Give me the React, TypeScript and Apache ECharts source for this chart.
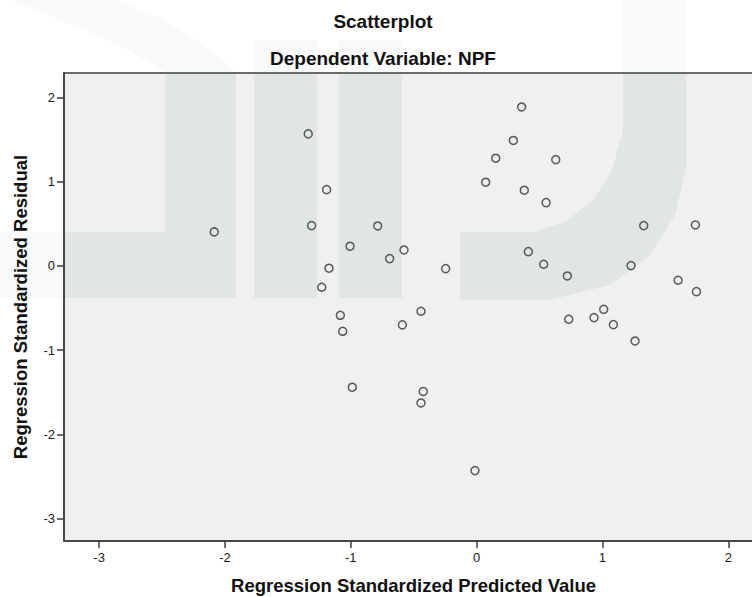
import React, { useEffect, useRef } from "react";
import * as echarts from "echarts";

const chartTitle = "Scatterplot";
const chartSubtitle = "Dependent Variable: NPF";
const xAxisName = "Regression Standardized Predicted Value";
const yAxisName = "Regression Standardized Residual";

const xTicks = [-3, -2, -1, 0, 1, 2];
const yTicks = [-3, -2, -1, 0, 1, 2];

const predicted = [
  -2.085, -1.338, -1.311, -1.192, -1.173, -1.231, -1.083, -1.064, -1.006, -0.988,
  -0.786, -0.691, -0.577, -0.59, -0.442, -0.424, -0.442, -0.246, -0.013,
  0.358, 0.292, 0.152, 0.629, 0.072, 0.379, 0.552, 1.328, 1.739, 0.411,
  0.533, 0.721, 1.227, 1.601, 1.747, 0.732, 0.933, 1.01, 1.087, 1.259,
];
const residual = [
  0.404, 1.568, 0.479, 0.906, -0.027, -0.253, -0.586, -0.776, 0.234, -1.44,
  0.475, 0.087, 0.19, -0.7, -0.538, -1.49, -1.627, -0.032, -2.43,
  1.888, 1.49, 1.279, 1.263, 0.994, 0.899, 0.752, 0.479, 0.487, 0.17,
  0.02, -0.119, 0.004, -0.17, -0.305, -0.633, -0.614, -0.515, -0.697, -0.891,
];

const FONT = '"Liberation Sans", Arial, sans-serif';

export default function App() {
  const ref = useRef<HTMLDivElement>(null);
  useEffect(() => {
    document.body.style.margin = "0";
    const chart = echarts.init(ref.current!, null, { renderer: "svg" });
    const wmIn = "rgba(0,80,70,0.06)";
    const wmOut = "rgba(0,80,70,0.028)";
    const poly = (points: number[][], fill: string) => ({
      type: "polygon",
      z: 1,
      silent: true,
      shape: { points },
      style: { fill },
    });
    chart.setOption({
      animation: false,
      backgroundColor: "#ffffff",
      grid: {
        left: 64,
        width: 699,
        top: 73,
        height: 468,
        containLabel: false,
        outerBoundsMode: "none",
        show: true,
        backgroundColor: "#f0f0f0",
        borderColor: "#3c3c3c",
        borderWidth: 1.5,
      },
      xAxis: {
        type: "value",
        min: -3.279,
        max: 2.276,
        splitLine: { show: false },
        axisLine: { show: true, onZero: false, lineStyle: { color: "#3c3c3c", width: 1.5 } },
        axisTick: { show: true, length: 7, customValues: xTicks, lineStyle: { color: "#3c3c3c", width: 1.5 } },
        axisLabel: { customValues: xTicks, margin: 10, fontSize: 13, color: "#1a1a1a", fontFamily: FONT },
        name: xAxisName,
        nameLocation: "middle",
        nameGap: 35,
        nameTextStyle: { fontSize: 18.5, fontWeight: "bold", color: "#111", fontFamily: FONT },
      },
      yAxis: {
        type: "value",
        min: -3.266,
        max: 2.291,
        splitLine: { show: false },
        axisLine: { show: true, onZero: false, lineStyle: { color: "#3c3c3c", width: 1.5 } },
        axisTick: { show: true, length: 7, customValues: yTicks, lineStyle: { color: "#3c3c3c", width: 1.5 } },
        axisLabel: { customValues: yTicks, margin: 9, fontSize: 13, color: "#1a1a1a", fontFamily: FONT },
        name: yAxisName,
        nameLocation: "middle",
        nameGap: 34,
        nameTextStyle: { fontSize: 18.5, fontWeight: "bold", color: "#111", fontFamily: FONT },
      },
      graphic: [
        // watermark (decorative) inside the plot area
        poly([[64, 232], [236, 232], [236, 298], [64, 298]], wmIn),
        poly([[165, 74], [236, 74], [236, 232], [165, 232]], wmIn),
        poly([[254, 74], [317, 74], [317, 298], [254, 298]], wmIn),
        poly([[339, 74], [402, 74], [402, 298], [339, 298]], wmIn),
        poly([
          [460, 232], [533, 232], [565, 222], [593, 200], [612, 170], [623, 130], [623, 74],
          [686, 74], [686, 170], [675, 215], [650, 255], [610, 285], [550, 300], [460, 300],
        ], wmIn),
        // watermark outside the plot area
        poly([[0, 232], [63, 232], [63, 298], [0, 298]], wmOut),
        poly([[165, 72], [236, 72], [205, 45], [160, 18], [115, 0], [10, 0], [60, 20], [125, 48]], wmOut),
        poly([[254, 40], [317, 40], [317, 72], [254, 72]], wmOut),
        poly([[339, 40], [402, 40], [402, 72], [339, 72]], wmOut),
        poly([[623, 0], [686, 0], [686, 72], [623, 72]], wmOut),
        {
          type: "text",
          z: 10,
          x: 383,
          y: 21,
          style: { text: chartTitle, font: `bold 19px ${FONT}`, fill: "#111", textAlign: "center", textVerticalAlign: "middle" },
        },
        {
          type: "text",
          z: 10,
          x: 383,
          y: 58,
          style: { text: chartSubtitle, font: `bold 19px ${FONT}`, fill: "#111", textAlign: "center", textVerticalAlign: "middle" },
        },
      ],
      series: [
        {
          type: "scatter",
          z: 5,
          symbol: "circle",
          symbolSize: 8,
          itemStyle: { color: "rgba(0,0,0,0)", borderColor: "#333333", borderWidth: 1.5 },
          data: predicted.map((x, i) => [x, residual[i]]),
        },
      ],
    });
    return () => chart.dispose();
  }, []);
  return <div ref={ref} style={{ width: 752, height: 597 }} />;
}
